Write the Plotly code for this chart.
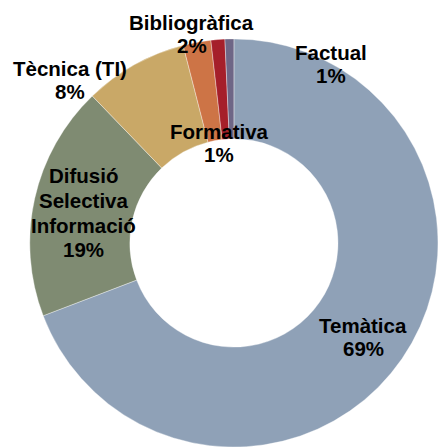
import plotly.graph_objects as go

W, H = 438, 448

# data
categories = ["Temàtica", "Difusió Selectiva Informació", "Tècnica (TI)",
              "Bibliogràfica", "Formativa", "Factual"]
values = [69.2, 18.6, 8.2, 2.2, 1.1, 0.7]
colors = ["#8FA1B7", "#7F8B72", "#C9A867", "#CD7446", "#A51F2A", "#6E6686"]

# label display lines (text split for layout)
label_lines = {
    "Temàtica": ["Temàtica"],
    "Difusió Selectiva Informació": ["Difusió", "Selectiva", "Informació"],
    "Tècnica (TI)": ["Tècnica (TI)"],
    "Bibliogràfica": ["Bibliogràfica"],
    "Formativa": ["Formativa"],
    "Factual": ["Factual"],
}
# label anchor (x center px, first line center px, line step px)
label_pos = {
    "Temàtica": (363, 325, 23.5),
    "Difusió Selectiva Informació": (83, 176, 24.5),
    "Tècnica (TI)": (70, 68, 23.5),
    "Bibliogràfica": (191.5, 22, 23.7),
    "Formativa": (219, 131, 24),
    "Factual": (331, 53, 22.5),
}

total = sum(values)
pcts = [round(v / total * 100) for v in values]

fig = go.Figure(go.Pie(
    labels=categories,
    values=values,
    marker=dict(colors=colors, line=dict(color="rgba(255,255,255,0.6)", width=0.6)),
    hole=0.51,
    sort=False,
    direction="clockwise",
    rotation=0,
    textinfo="none",
    hoverinfo="label+percent",
    showlegend=False,
    domain=dict(x=[0.068, 1.0], y=[0.0, 1 - 38 / H]),
))

annotations = []
font = dict(family="Liberation Sans, Arial, sans-serif", size=20.5, color="#000000")
for cat, p in zip(categories, pcts):
    lines = label_lines[cat] + [f"{p}%"]
    x0, y0, step = label_pos[cat]
    for i, ln in enumerate(lines):
        annotations.append(dict(
            text=f"<b>{ln}</b>", x=x0 / W, y=1 - (y0 + i * step) / H,
            xref="paper", yref="paper", xanchor="center", yanchor="middle",
            showarrow=False, font=font,
        ))

fig.update_layout(
    width=W, height=H,
    margin=dict(l=0, r=0, t=0, b=0),
    paper_bgcolor="white", plot_bgcolor="white",
    annotations=annotations,
)

fig.write_html("out.html",
               config={"displayModeBar": False},
               post_script="document.body.style.margin='0';document.body.style.overflow='hidden';")
